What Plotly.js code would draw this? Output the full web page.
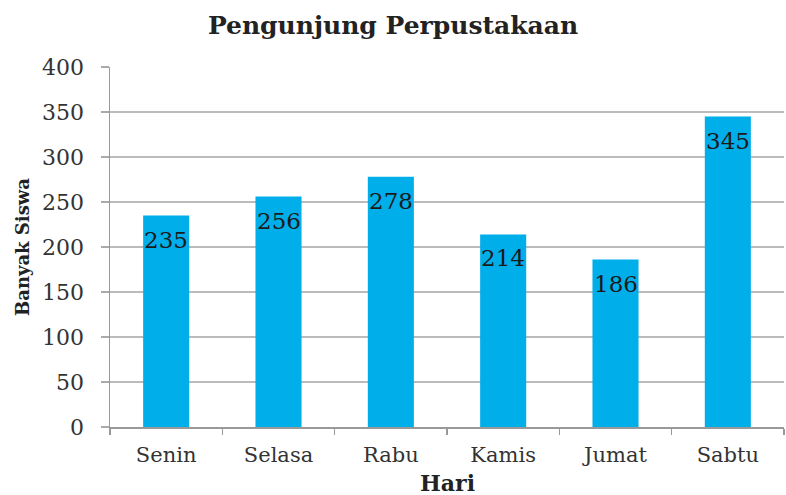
<!DOCTYPE html>
<html><head><meta charset="utf-8">
<script src="https://cdn.plot.ly/plotly-3.0.1.min.js"></script>
<style>html,body{margin:0;padding:0;background:#fff}#chart{width:786px;height:495px}</style>
</head><body><div id="chart"></div>
<script>
const days = ["Senin","Selasa","Rabu","Kamis","Jumat","Sabtu"];
const visitors = [235,256,278,214,186,345];
const yTicks = [0,50,100,150,200,250,300,350,400];

const serif = "'DejaVu Serif', serif";
const labels = days.map((d, i) => ({
  x: d, y: visitors[i], xref: "x", yref: "y",
  text: String(visitors[i]), showarrow: false,
  yanchor: "top", xanchor: "center", yshift: -9,
  font: {family: serif, size: 23, color: "#1a1a1a"}
}));
labels.push({
  x: 0.5, y: 0, xref: "paper", yref: "paper", yshift: -56,
  xanchor: "center", yanchor: "middle", showarrow: false, borderpad: 0,
  text: "<b>Hari</b>", font: {family: serif, size: 22, color: "#222"}
});

Plotly.newPlot("chart", [{
  type: "bar",
  x: days,
  y: visitors,
  marker: {color: "#00AEEA"},
  width: 0.41,
  hoverinfo: "none"
}], {
  width: 786, height: 495,
  margin: {l: 110, r: 2, t: 67, b: 68},
  paper_bgcolor: "#fff", plot_bgcolor: "#fff",
  title: {text: "<b>Pengunjung Perpustakaan</b>", font: {family: serif, size: 25, color: "#222"}, x: 0.5, xanchor: "center", y: 0.95, yanchor: "middle"},
  annotations: labels,
  xaxis: {
    tickfont: {family: serif, size: 21, color: "#333"},
    showline: true, linecolor: "#999", linewidth: 1.5,
    ticks: "outside", tickson: "boundaries", ticklen: 6, tickcolor: "#999", tickwidth: 1.5,
    ticklabelstandoff: 8,
    showgrid: false, fixedrange: true
  },
  yaxis: {
    title: {text: "<b>Banyak Siswa</b>", font: {family: serif, size: 18, color: "#222"}, standoff: 8},
    range: [0, 400], tickvals: yTicks,
    tickfont: {family: serif, size: 22, color: "#333"},
    showline: true, linecolor: "#999", linewidth: 1.5,
    ticks: "outside", ticklen: 8, tickcolor: "#aaa", tickwidth: 1.5,
    ticklabelstandoff: 12,
    showgrid: true, gridcolor: "#bbb", gridwidth: 1.5,
    zeroline: false, fixedrange: true
  },
  showlegend: false
}, {displayModeBar: false, staticPlot: true});
</script></body></html>
